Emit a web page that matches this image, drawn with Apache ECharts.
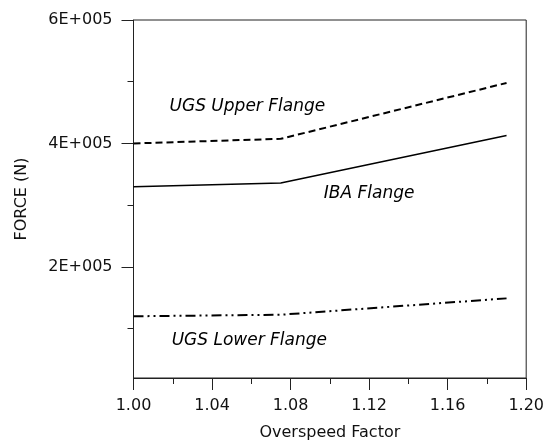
<!DOCTYPE html>
<html><head><meta charset="utf-8">
<script src="https://cdn.jsdelivr.net/npm/echarts@6/dist/echarts.min.js"></script>
<style>html,body{margin:0;padding:0;background:#fff}#c{width:547px;height:446px}</style>
</head><body><div id="c"></div>
<script>
const overspeed = [1.00, 1.075, 1.19];
const ugsUpper = [400000, 407500, 498000];
const ibaFlange = [330000, 336000, 413000];
const ugsLower = [120000, 122500, 149000];
const yMajorTicks = [200000, 400000, 600000];
const yMinorTicks = [100000, 300000, 500000];
const annotationText = ['UGS Upper Flange', 'IBA Flange', 'UGS Lower Flange'];
const annotationX = [1.058, 1.120, 1.059];
const annotationY = [459000, 318000, 80000];

const FONT = 'DejaVu Sans';
const fmtE = v => (v / 100000) + 'E+005';
const pairs = arr => overspeed.map((x, i) => [x, arr[i]]);

const chart = echarts.init(document.getElementById('c'));
chart.setOption({
  animation: false,
  backgroundColor: '#fff',
  grid: {left: 133.5, right: 19, top: 20, bottom: 66, show: true, borderColor: '#222', borderWidth: 1, backgroundColor: 'transparent'},
  xAxis: {
    type: 'value', min: 1.0, max: 1.2, interval: 0.04,
    name: 'Overspeed Factor', nameLocation: 'middle', nameGap: 47,
    nameTextStyle: {fontFamily: FONT, fontSize: 16, color: '#111'},
    axisLine: {show: true, lineStyle: {color: '#222', width: 1}},
    axisTick: {show: true, inside: false, length: 12, lineStyle: {color: '#222'}},
    minorTick: {show: true, splitNumber: 2, length: 6, lineStyle: {color: '#222'}},
    splitLine: {show: false},
    axisLabel: {fontFamily: FONT, fontSize: 16, color: '#111', margin: 20, formatter: v => v.toFixed(2)}
  },
  yAxis: [{
    type: 'value', min: 20000, max: 600000,
    name: 'FORCE (N)', nameLocation: 'middle', nameGap: 104, nameRotate: 90,
    nameTextStyle: {fontFamily: FONT, fontSize: 16, color: '#111'},
    axisLine: {show: true, lineStyle: {color: '#222', width: 1}},
    axisTick: {show: true, inside: false, length: 12, customValues: yMajorTicks, lineStyle: {color: '#222'}},
    axisLabel: {fontFamily: FONT, fontSize: 16, color: '#111', margin: 21, customValues: yMajorTicks, formatter: fmtE},
    splitLine: {show: false}
  }, {
    type: 'value', min: 20000, max: 600000, position: 'left',
    axisLine: {show: false},
    axisTick: {show: true, inside: false, length: 6, customValues: yMinorTicks, lineStyle: {color: '#222'}},
    axisLabel: {show: false},
    splitLine: {show: false}
  }],
  series: [
    {type: 'line', data: pairs(ugsUpper), symbol: 'none', lineStyle: {color: '#000', width: 2, type: [7, 4]}},
    {type: 'line', data: pairs(ibaFlange), symbol: 'none', lineStyle: {color: '#000', width: 1.5, type: 'solid'}},
    {type: 'line', data: pairs(ugsLower), symbol: 'none', lineStyle: {color: '#000', width: 2, type: [10, 4, 2, 4, 2, 4]}},
    {type: 'scatter', silent: true, symbol: 'circle', symbolSize: 2,
     itemStyle: {color: 'rgba(0,0,0,0)', opacity: 1},
     data: annotationX.map((x, i) => ({value: [x, annotationY[i]], name: annotationText[i]})),
     label: {show: true, position: 'inside', formatter: p => p.name,
       fontFamily: FONT, fontStyle: 'italic', fontSize: 17, color: '#000'}}
  ]
});
</script></body></html>
